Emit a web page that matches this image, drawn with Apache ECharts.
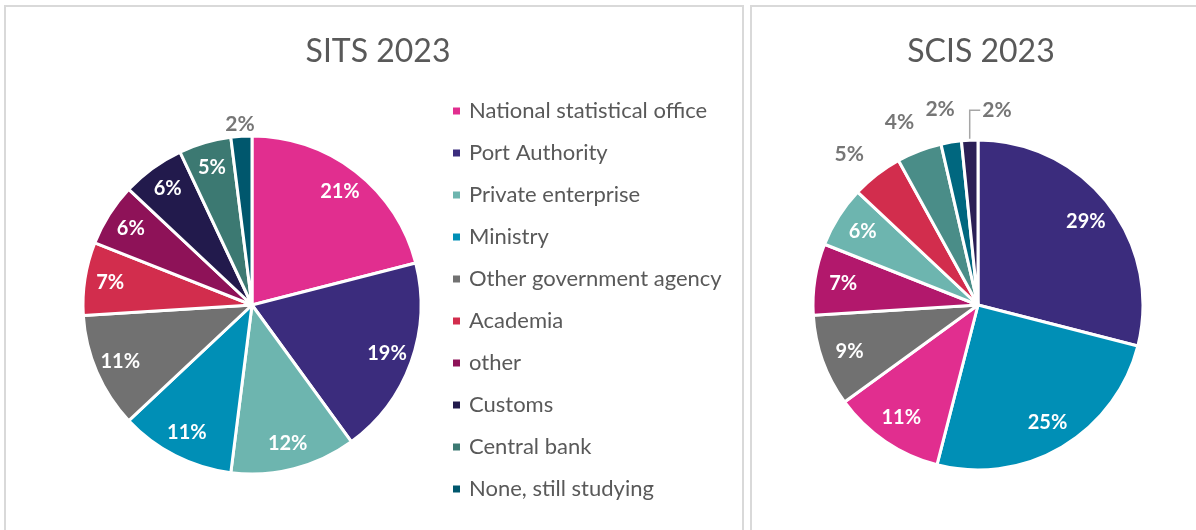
<!DOCTYPE html>
<html>
<head>
<meta charset="utf-8">
<script src="https://cdn.jsdelivr.net/npm/echarts@6/dist/echarts.min.js"></script>
<style>
  html, body { margin: 0; padding: 0; background: #fff; }
  #main { width: 1196px; height: 530px; }
</style>
</head>
<body>
<div id="main"></div>
<script>
// SITS 2023
const sitsCategories = ['National statistical office', 'Port Authority', 'Private enterprise', 'Ministry',
  'Other government agency', 'Academia', 'other', 'Customs', 'Central bank', 'None, still studying']
const sitsValues = [21, 19, 12, 11, 11, 7, 6, 6, 5, 2]
const sitsColors = ['#E12E8F', '#3B2C7D', '#6DB5AF', '#008FB6', '#717171', '#D22D4D', '#8E1258', '#221A4C', '#3C7972', '#00576D']

// SCIS 2023 (sorted largest first)
const scisCategories = ['Port Authority', 'Ministry', 'National statistical office', 'Other government agency',
  'other', 'Private enterprise', 'Academia', 'Central bank', 'None, still studying', 'Customs']
const scisValues = [29, 25, 11, 9, 7, 6, 5, 4.4, 2, 1.6]
const scisColors = ['#3B2C7D', '#008FB6', '#E12E8F', '#717171', '#B2186C', '#6DB5AF', '#D22D4D', '#4A8D88', '#00677F', '#2B1F56']

const font = 'Lato, "Open Sans", sans-serif'
const pct = p => Math.round(p.percent) + '%'

const chart = echarts.init(document.getElementById('main'))

const sitsData = sitsCategories.map((name, i) => ({ name, value: sitsValues[i], itemStyle: { color: sitsColors[i] } }))
const scisData = scisCategories.map((name, i) => ({ name, value: scisValues[i], itemStyle: { color: scisColors[i] } }))

const outsideLabel = {
  position: 'outside',
  color: '#767676',
  fontFamily: font,
  fontSize: 21,
  fontWeight: 'bold',
  distanceToLabelLine: 0
}

// nudges for the small outside labels (length, length2)
const scisNudge = {
  'Academia': [26, -3],
  'Central bank': [31, -6],
  'None, still studying': [33, -9]
}

// label-only overlays so that inside labels sit near the rim like the original
const sitsLabels = sitsCategories.map((name, i) => {
  const item = { name, value: sitsValues[i] }
  if (sitsValues[i] < 4) {
    item.label = outsideLabel
    item.labelLine = { show: false, length: 12, length2: -14 }
  }
  return item
})
const scisLabels = scisCategories.map((name, i) => {
  const item = { name, value: scisValues[i] }
  if (scisNudge[name]) {
    item.label = outsideLabel
    item.labelLine = { show: false, length: scisNudge[name][0], length2: scisNudge[name][1] }
  }
  if (name === 'Customs') {
    item.label = Object.assign({}, outsideLabel, { padding: [0, 0, 16, 2] })
    item.labelLine = { show: true, length: 30, length2: -12, lineStyle: { color: '#A6A6A6', width: 1.5 } }
  }
  return item
})

const option = {
  backgroundColor: '#fff',
  animation: false,
  graphic: [
    { type: 'rect', shape: { x: 5, y: 6, width: 738, height: 540 }, style: { fill: '#fff', stroke: '#D9D9D9', lineWidth: 2 }, z: -10 },
    { type: 'rect', shape: { x: 751, y: 6, width: 470, height: 540 }, style: { fill: '#fff', stroke: '#D9D9D9', lineWidth: 2 }, z: -10 }
  ],
  title: [
    { text: 'SITS 2023', left: 373, top: 31, textAlign: 'center', textStyle: { fontFamily: font, fontSize: 32, fontWeight: 'normal', color: '#595959' } },
    { text: 'SCIS 2023', left: 976, top: 31, textAlign: 'center', textStyle: { fontFamily: font, fontSize: 32, fontWeight: 'normal', color: '#595959' } }
  ],
  legend: {
    orient: 'vertical',
    left: 446,
    top: 94,
    icon: 'rect',
    itemWidth: 9,
    itemHeight: 9,
    itemGap: 18,
    selectedMode: false,
    data: sitsCategories,
    textStyle: { fontFamily: font, fontSize: 22, lineHeight: 24, color: '#595959', padding: [0, 0, 0, 3] }
  },
  series: [
    {
      name: 'SITS 2023',
      type: 'pie',
      center: [252, 305],
      radius: [0, 169],
      startAngle: 90,
      silent: true,
      itemStyle: { borderColor: '#fff', borderWidth: 3 },
      label: { show: false },
      labelLine: { show: false },
      data: sitsData
    },
    {
      name: 'SCIS 2023',
      type: 'pie',
      center: [978, 305],
      radius: [0, 165],
      startAngle: 90,
      silent: true,
      itemStyle: { borderColor: '#fff', borderWidth: 3 },
      label: { show: false },
      labelLine: { show: false },
      data: scisData
    },
    {
      type: 'pie',
      center: [252, 305],
      radius: [112, 169],
      startAngle: 90,
      silent: true,
      avoidLabelOverlap: false,
      itemStyle: { color: 'transparent' },
      label: { show: true, position: 'inside', formatter: pct, color: '#fff', fontFamily: font, fontSize: 20, fontWeight: 'bold' },
      labelLine: { show: false },
      data: sitsLabels
    },
    {
      type: 'pie',
      center: [978, 305],
      radius: [102, 165],
      startAngle: 90,
      silent: true,
      avoidLabelOverlap: false,
      itemStyle: { color: 'transparent' },
      label: { show: true, position: 'inside', formatter: pct, color: '#fff', fontFamily: font, fontSize: 20, fontWeight: 'bold' },
      labelLine: { show: false },
      labelLayout: function (params) {
        if (params.dataIndex === scisCategories.indexOf('Customs')) {
          return { align: 'left' }
        }
      },
      data: scisLabels
    }
  ]
}

chart.setOption(option)
window.addEventListener('resize', () => chart.resize())
</script>
</body>
</html>
